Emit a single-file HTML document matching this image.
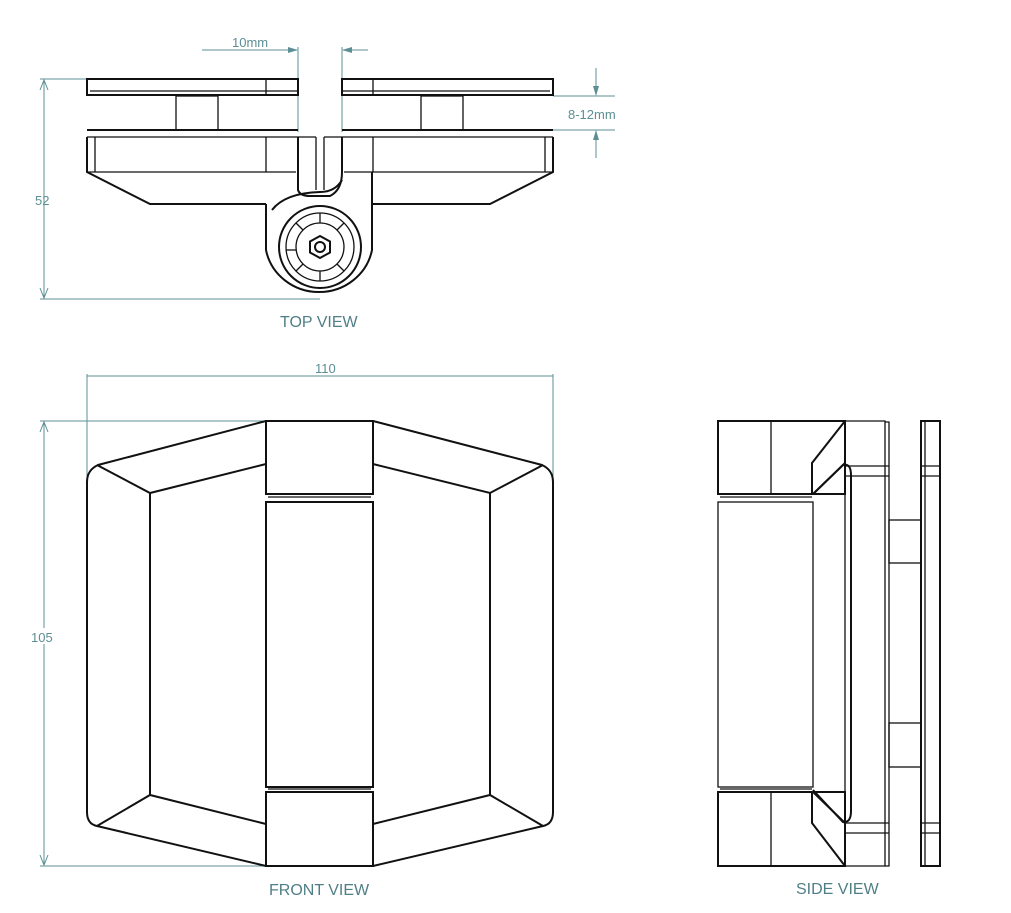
<!DOCTYPE html>
<html><head><meta charset="utf-8"><style>
html,body{margin:0;padding:0;background:#fff;}
svg{display:block;}
.k{fill:none;stroke:#111;stroke-width:1.3;}
.b{fill:none;stroke:#111;stroke-width:2;}
.d{fill:none;stroke:#5b8f95;stroke-width:1;}
.t{fill:#5b8f95;font-family:"Liberation Sans",sans-serif;font-size:13px;}
.L{fill:#4f7f86;font-family:"Liberation Sans Narrow","Liberation Sans",sans-serif;font-size:16px;}
</style></head><body>
<svg width="1011" height="913" viewBox="0 0 1011 913" xmlns="http://www.w3.org/2000/svg">
<defs><marker id="a" markerWidth="10" markerHeight="6" refX="9" refY="3" orient="auto"><path d="M0,0 L10,3 L0,6 z" fill="#5b8f95"/></marker></defs>

<!-- TOP VIEW dims -->
<line class="d" x1="298" y1="47" x2="298" y2="132"/>
<line class="d" x1="342" y1="47" x2="342" y2="132"/>
<line class="d" x1="202" y1="50" x2="297" y2="50" marker-end="url(#a)"/>
<line class="d" x1="368" y1="50" x2="343" y2="50" marker-end="url(#a)"/>
<text class="t" x="232" y="47">10mm</text>
<line class="d" x1="40" y1="79" x2="87" y2="79"/>
<line class="d" x1="40" y1="299" x2="320" y2="299"/>
<line class="d" x1="44" y1="80" x2="44" y2="298"/>
<path d="M40,90 L44,80 L48,90" fill="none" stroke="#5b8f95"/>
<path d="M40,288 L44,298 L48,288" fill="none" stroke="#5b8f95"/>
<text class="t" x="35" y="205">52</text>
<line class="d" x1="553" y1="96" x2="615" y2="96"/>
<line class="d" x1="553" y1="130" x2="615" y2="130"/>
<line class="d" x1="596" y1="68" x2="596" y2="95" marker-end="url(#a)"/>
<line class="d" x1="596" y1="158" x2="596" y2="131" marker-end="url(#a)"/>
<text class="t" x="568" y="119">8-12mm</text>

<!-- top plates -->
<rect class="b" x="87" y="79" width="211" height="16"/>
<line class="k" x1="90" y1="91" x2="298" y2="91"/>
<line class="k" x1="266" y1="79" x2="266" y2="95"/>
<rect class="b" x="342" y="79" width="211" height="16"/>
<line class="k" x1="342" y1="91" x2="550" y2="91"/>
<line class="k" x1="373" y1="79" x2="373" y2="95"/>
<rect class="k" x="176" y="96" width="42" height="34"/>
<rect class="k" x="421" y="96" width="42" height="34"/>
<!-- lower body -->
<path class="b" d="M87,130 H298 M342,130 H553"/>
<path class="b" d="M87,137 V172 L150,204 H266 M553,137 V172 L490,204 H373"/>
<path class="k" d="M87,137 H298 M342,137 H553 M95,137 V172 M545,137 V172 M87,172 H296 M344,172 H553 M266,137 V172 M373,137 V172"/>
<!-- knuckle -->
<path class="b" d="M298,137 V190 Q300,196 310,196 L330,196 Q342,190 342,172 V137"/>
<path class="k" d="M316,137 V190 M324,137 V190 M298,137 H316 M324,137 H342"/>
<path class="b" d="M266,204 V250 A54,52 0 0 0 372,250 V172"/>
<path class="b" d="M272,210 Q285,193 320,192 Q335,192 342,180"/>
<circle class="b" cx="320" cy="247" r="41"/>
<circle class="k" cx="320" cy="247" r="34"/>
<circle class="k" cx="320" cy="247" r="24"/>
<g class="k">
<line x1="320" y1="213" x2="320" y2="223"/>
<line x1="344" y1="223" x2="337" y2="230"/>
<line x1="296" y1="223" x2="303" y2="230"/>
<line x1="286" y1="250" x2="296" y2="250"/>
<line x1="296" y1="271" x2="303" y2="264"/>
<line x1="320" y1="281" x2="320" y2="271"/>
<line x1="344" y1="271" x2="337" y2="264"/>
</g>
<polygon class="b" points="320,236 330,241.5 330,252.5 320,258 310,252.5 310,241.5"/>
<circle class="b" cx="320" cy="247" r="5"/>
<text class="L" x="280" y="327">TOP VIEW</text>

<!-- FRONT VIEW dims -->
<line class="d" x1="87" y1="374" x2="87" y2="478"/>
<line class="d" x1="553" y1="374" x2="553" y2="478"/>
<line class="d" x1="87" y1="376" x2="553" y2="376"/>
<text class="t" x="315" y="373">110</text>
<line class="d" x1="40" y1="421" x2="266" y2="421"/>
<line class="d" x1="40" y1="866" x2="266" y2="866"/>
<line class="d" x1="44" y1="422" x2="44" y2="865"/>
<path d="M40,432 L44,422 L48,432" fill="none" stroke="#5b8f95"/>
<path d="M40,855 L44,865 L48,855" fill="none" stroke="#5b8f95"/>
<rect x="30" y="628" width="28" height="16" fill="#fff"/>
<text class="t" x="31" y="642">105</text>

<!-- front body -->
<path class="b" d="M266,421 L98,465 Q87,470 87,482 V812 Q87,824 97,826 L266,866"/>
<path class="b" d="M373,421 L542,465 Q553,470 553,482 V812 Q553,824 543,826 L373,866"/>
<path class="b" d="M97,465 L150,493 L266,464 M150,493 V796 M97,826 L150,795 L266,824"/>
<path class="b" d="M543,465 L490,493 L373,464 M490,493 V796 M543,826 L490,795 L373,824"/>
<rect class="b" x="266" y="421" width="107" height="73"/>
<line class="k" x1="268" y1="497" x2="371" y2="497"/>
<rect class="b" x="266" y="502" width="107" height="285"/>
<line class="k" x1="268" y1="789" x2="371" y2="789"/>
<rect class="b" x="266" y="792" width="107" height="74"/>
<text class="L" x="269" y="895">FRONT VIEW</text>

<!-- SIDE VIEW -->
<rect class="b" x="718" y="421" width="127" height="73"/>
<line class="k" x1="771" y1="421" x2="771" y2="494"/>
<path class="b" d="M845,421 L812,463 V494 M845,463 L813,494"/>
<line class="k" x1="720" y1="497" x2="812" y2="497"/>
<rect class="k" x="718" y="502" width="95" height="285"/>
<line class="k" x1="720" y1="789" x2="812" y2="789"/>
<rect class="b" x="718" y="792" width="127" height="74"/>
<line class="k" x1="771" y1="792" x2="771" y2="866"/>
<path class="b" d="M845,866 L812,823 V792 M845,823 L813,792"/>
<path class="b" d="M813,494 L843,465 Q851,463 851,475 V811 Q851,823 843,822 L813,790"/>
<path class="k" d="M845,421 V866 M845,421 H885 V866 H845"/>
<path class="k" d="M885,422 H889 V866 H885"/>
<path class="k" d="M845,466 H889 M845,476 H889 M845,823 H889 M845,833 H889"/>
<rect class="k" x="889" y="520" width="32" height="43"/>
<rect class="k" x="889" y="723" width="32" height="44"/>
<rect class="b" x="921" y="421" width="19" height="445"/>
<path class="k" d="M925,421 V866 M921,466 H940 M921,476 H940 M921,823 H940 M921,833 H940"/>
<text class="L" x="796" y="894">SIDE  VIEW</text>
</svg>
</body></html>
